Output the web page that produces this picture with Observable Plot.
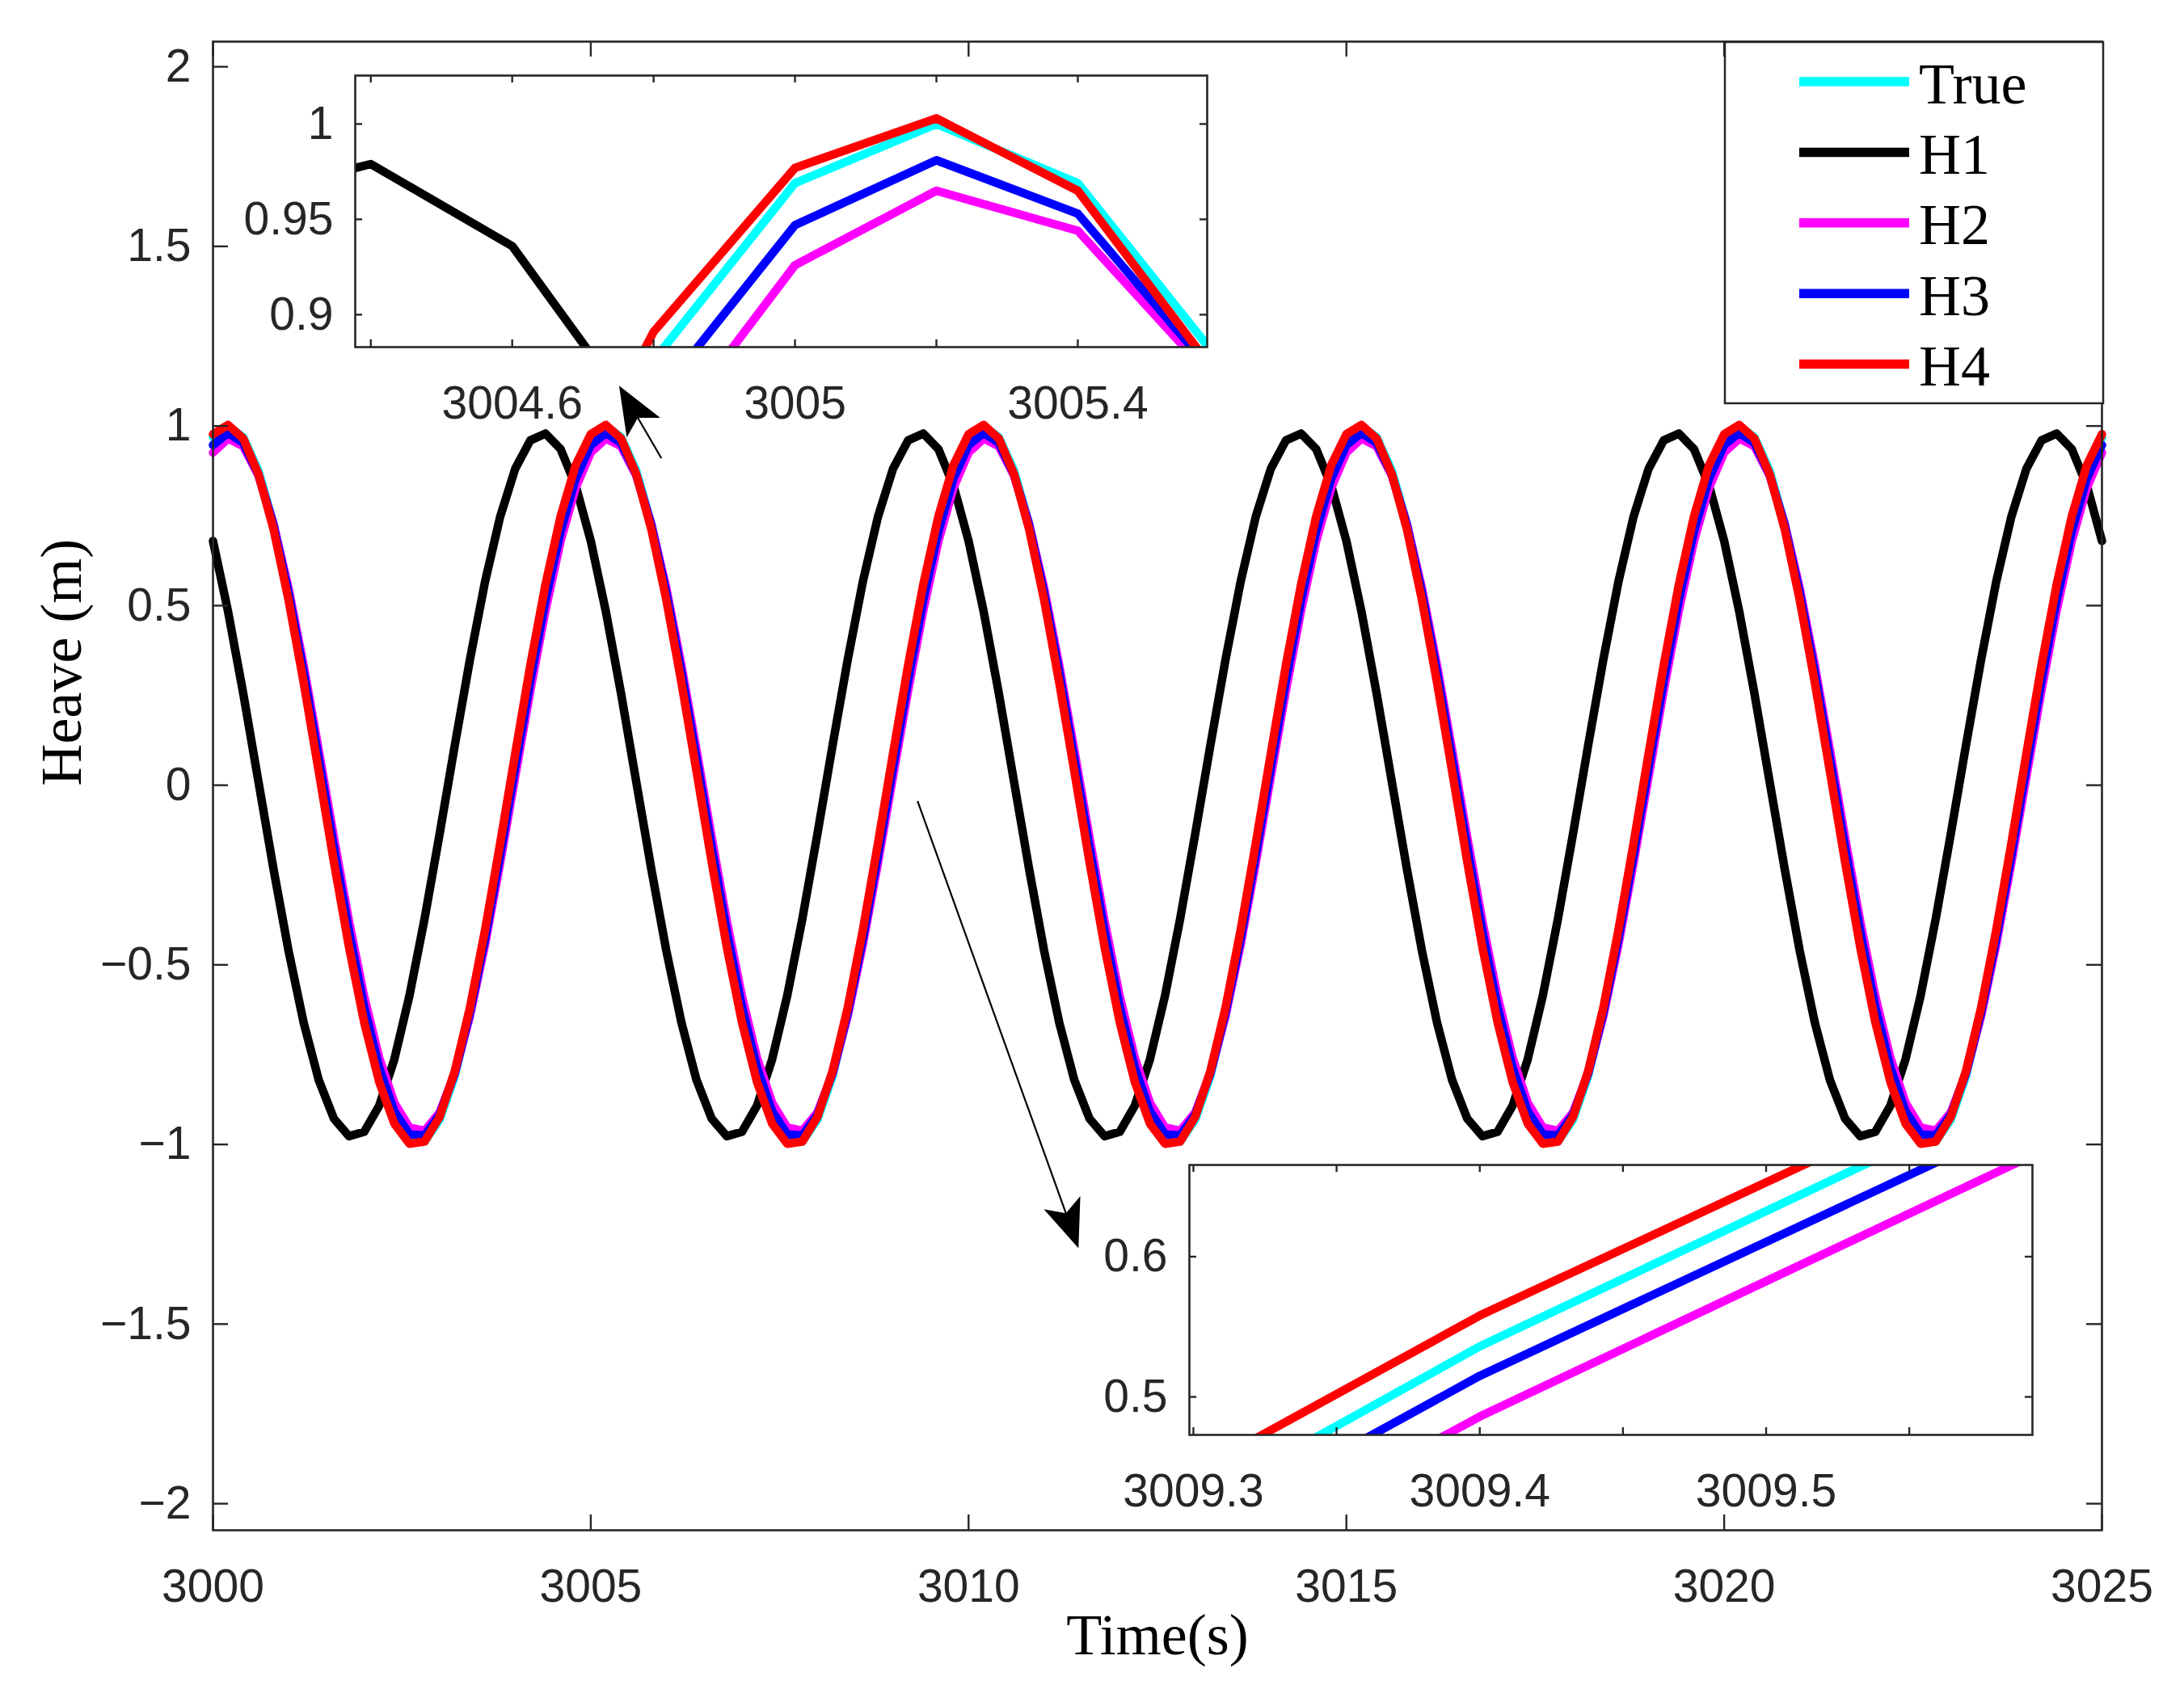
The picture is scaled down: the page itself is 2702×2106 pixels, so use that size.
<!DOCTYPE html>
<html><head><meta charset="utf-8">
<script src="https://cdn.jsdelivr.net/npm/d3@7"></script>
<script src="https://cdn.jsdelivr.net/npm/@observablehq/plot@0.6"></script>
<style>
html,body{margin:0;padding:0;background:#fff;}
#wrap{position:relative;width:2702px;height:2106px;background:#fff;overflow:hidden;}
#wrap > svg{position:absolute;}
</style></head><body><div id="wrap"></div>
<script>
// ---------------- data (sampled every 0.2 s) ----------------
const time = [
3000,3000.2,3000.4,3000.6,3000.8,3001,3001.2,3001.4,3001.6,3001.8,3002,3002.2,3002.4,3002.6,3002.8,3003,3003.2,3003.4,3003.6,3003.8,3004,3004.2,3004.4,3004.6,3004.8,
3005,3005.2,3005.4,3005.6,3005.8,3006,3006.2,3006.4,3006.6,3006.8,3007,3007.2,3007.4,3007.6,3007.8,3008,3008.2,3008.4,3008.6,3008.8,3009,3009.2,3009.4,3009.6,3009.8,
3010,3010.2,3010.4,3010.6,3010.8,3011,3011.2,3011.4,3011.6,3011.8,3012,3012.2,3012.4,3012.6,3012.8,3013,3013.2,3013.4,3013.6,3013.8,3014,3014.2,3014.4,3014.6,3014.8,
3015,3015.2,3015.4,3015.6,3015.8,3016,3016.2,3016.4,3016.6,3016.8,3017,3017.2,3017.4,3017.6,3017.8,3018,3018.2,3018.4,3018.6,3018.8,3019,3019.2,3019.4,3019.6,3019.8,
3020,3020.2,3020.4,3020.6,3020.8,3021,3021.2,3021.4,3021.6,3021.8,3022,3022.2,3022.4,3022.6,3022.8,3023,3023.2,3023.4,3023.6,3023.8,3024,3024.2,3024.4,3024.6,3024.8,
3025];

const heaveTrue = [
0.969,1.000,0.969,0.876,0.729,0.536,0.309,0.063,-0.187,-0.426,-0.637,-0.809,-0.930,-0.992,-0.992,-0.930,-0.809,-0.637,-0.426,-0.187,0.063,0.309,0.536,0.729,0.876,
0.969,1.000,0.969,0.876,0.729,0.536,0.309,0.063,-0.187,-0.426,-0.637,-0.809,-0.930,-0.992,-0.992,-0.930,-0.809,-0.637,-0.426,-0.187,0.063,0.309,0.536,0.729,0.876,
0.969,1.000,0.969,0.876,0.729,0.536,0.309,0.063,-0.187,-0.426,-0.637,-0.809,-0.930,-0.992,-0.992,-0.930,-0.809,-0.637,-0.426,-0.187,0.063,0.309,0.536,0.729,0.876,
0.969,1.000,0.969,0.876,0.729,0.536,0.309,0.063,-0.187,-0.426,-0.637,-0.809,-0.930,-0.992,-0.992,-0.930,-0.809,-0.637,-0.426,-0.187,0.063,0.309,0.536,0.729,0.876,
0.969,1.000,0.969,0.876,0.729,0.536,0.309,0.063,-0.187,-0.426,-0.637,-0.809,-0.930,-0.992,-0.992,-0.930,-0.809,-0.637,-0.426,-0.187,0.063,0.309,0.536,0.729,0.876,
0.969];

const heaveH1 = [
0.680,0.483,0.256,0.012,-0.232,-0.461,-0.661,-0.821,-0.928,-0.977,-0.965,-0.892,-0.763,-0.586,-0.372,-0.135,0.111,0.349,0.566,0.747,0.881,0.960,0.979,0.936,0.834,
0.680,0.483,0.256,0.012,-0.232,-0.461,-0.661,-0.821,-0.928,-0.977,-0.965,-0.892,-0.763,-0.586,-0.372,-0.135,0.111,0.349,0.566,0.747,0.881,0.960,0.979,0.936,0.834,
0.680,0.483,0.256,0.012,-0.232,-0.461,-0.661,-0.821,-0.928,-0.977,-0.965,-0.892,-0.763,-0.586,-0.372,-0.135,0.111,0.349,0.566,0.747,0.881,0.960,0.979,0.936,0.834,
0.680,0.483,0.256,0.012,-0.232,-0.461,-0.661,-0.821,-0.928,-0.977,-0.965,-0.892,-0.763,-0.586,-0.372,-0.135,0.111,0.349,0.566,0.747,0.881,0.960,0.979,0.936,0.834,
0.680,0.483,0.256,0.012,-0.232,-0.461,-0.661,-0.821,-0.928,-0.977,-0.965,-0.892,-0.763,-0.586,-0.372,-0.135,0.111,0.349,0.566,0.747,0.881,0.960,0.979,0.936,0.834,
0.680];

const heaveH2 = [
0.926,0.965,0.944,0.863,0.729,0.548,0.333,0.097,-0.145,-0.378,-0.587,-0.759,-0.884,-0.953,-0.962,-0.911,-0.802,-0.643,-0.444,-0.217,0.024,0.264,0.486,0.679,0.828,
0.926,0.965,0.944,0.863,0.729,0.548,0.333,0.097,-0.145,-0.378,-0.587,-0.759,-0.884,-0.953,-0.962,-0.911,-0.802,-0.643,-0.444,-0.217,0.024,0.264,0.486,0.679,0.828,
0.926,0.965,0.944,0.863,0.729,0.548,0.333,0.097,-0.145,-0.378,-0.587,-0.759,-0.884,-0.953,-0.962,-0.911,-0.802,-0.643,-0.444,-0.217,0.024,0.264,0.486,0.679,0.828,
0.926,0.965,0.944,0.863,0.729,0.548,0.333,0.097,-0.145,-0.378,-0.587,-0.759,-0.884,-0.953,-0.962,-0.911,-0.802,-0.643,-0.444,-0.217,0.024,0.264,0.486,0.679,0.828,
0.926,0.965,0.944,0.863,0.729,0.548,0.333,0.097,-0.145,-0.378,-0.587,-0.759,-0.884,-0.953,-0.962,-0.911,-0.802,-0.643,-0.444,-0.217,0.024,0.264,0.486,0.679,0.828,
0.926];

const heaveH3 = [
0.947,0.981,0.953,0.866,0.724,0.536,0.315,0.074,-0.172,-0.406,-0.616,-0.786,-0.908,-0.972,-0.975,-0.917,-0.801,-0.634,-0.429,-0.196,0.049,0.291,0.515,0.706,0.854,
0.947,0.981,0.953,0.866,0.724,0.536,0.315,0.074,-0.172,-0.406,-0.616,-0.786,-0.908,-0.972,-0.975,-0.917,-0.801,-0.634,-0.429,-0.196,0.049,0.291,0.515,0.706,0.854,
0.947,0.981,0.953,0.866,0.724,0.536,0.315,0.074,-0.172,-0.406,-0.616,-0.786,-0.908,-0.972,-0.975,-0.917,-0.801,-0.634,-0.429,-0.196,0.049,0.291,0.515,0.706,0.854,
0.947,0.981,0.953,0.866,0.724,0.536,0.315,0.074,-0.172,-0.406,-0.616,-0.786,-0.908,-0.972,-0.975,-0.917,-0.801,-0.634,-0.429,-0.196,0.049,0.291,0.515,0.706,0.854,
0.947,0.981,0.953,0.866,0.724,0.536,0.315,0.074,-0.172,-0.406,-0.616,-0.786,-0.908,-0.972,-0.975,-0.917,-0.801,-0.634,-0.429,-0.196,0.049,0.291,0.515,0.706,0.854,
0.947];

const heaveH4 = [
0.977,1.003,0.965,0.867,0.714,0.516,0.286,0.038,-0.213,-0.450,-0.659,-0.826,-0.942,-0.998,-0.992,-0.923,-0.796,-0.620,-0.404,-0.163,0.088,0.334,0.558,0.748,0.891,
0.977,1.003,0.965,0.867,0.714,0.516,0.286,0.038,-0.213,-0.450,-0.659,-0.826,-0.942,-0.998,-0.992,-0.923,-0.796,-0.620,-0.404,-0.163,0.088,0.334,0.558,0.748,0.891,
0.977,1.003,0.965,0.867,0.714,0.516,0.286,0.038,-0.213,-0.450,-0.659,-0.826,-0.942,-0.998,-0.992,-0.923,-0.796,-0.620,-0.404,-0.163,0.088,0.334,0.558,0.748,0.891,
0.977,1.003,0.965,0.867,0.714,0.516,0.286,0.038,-0.213,-0.450,-0.659,-0.826,-0.942,-0.998,-0.992,-0.923,-0.796,-0.620,-0.404,-0.163,0.088,0.334,0.558,0.748,0.891,
0.977,1.003,0.965,0.867,0.714,0.516,0.286,0.038,-0.213,-0.450,-0.659,-0.826,-0.942,-0.998,-0.992,-0.923,-0.796,-0.620,-0.404,-0.163,0.088,0.334,0.558,0.748,0.891,
0.977];

const seriesNames  = ["True", "H1", "H2", "H3", "H4"];
const seriesColors = ["#00ffff", "#000000", "#ff00ff", "#0000ff", "#ff0000"];
const seriesValues = [heaveTrue, heaveH1, heaveH2, heaveH3, heaveH4];

// ticks / labels
const mainXTicks = [3000, 3005, 3010, 3015, 3020, 3025];
const mainYTicks = [-2, -1.5, -1, -0.5, 0, 0.5, 1, 1.5, 2];
const topXTicks  = [3004.4, 3004.6, 3004.8, 3005, 3005.2, 3005.4];
const topXLabels = [3004.6, 3005, 3005.4];
const topYTicks  = [0.9, 0.95, 1];
const botXTicks  = [3009.3, 3009.35, 3009.4, 3009.45, 3009.5, 3009.55];
const botXLabels = [3009.3, 3009.4, 3009.5];
const botYTicks  = [0.5, 0.6];

const xLabel = "Time(s)";
const yLabel = "Heave (m)";

// annotation arrows (main-axes data coordinates: tail -> tip)
const arrows = [
  {x1: 3005.94, y1: 0.909, x2: 3005.38, y2: 1.111},
  {x1: 3009.33, y1: -0.045, x2: 3011.46, y2: -1.29}
];

// ---------------- rendering ----------------
const SANS  = "'Liberation Sans', Arial, Helvetica, sans-serif";
const SERIF = "'Liberation Serif', 'Times New Roman', Times, serif";
const AXIS  = "#262626";
const FONT  = 57;
const LW    = 10.5;

const allRows = [];
seriesNames.forEach((s, i) => time.forEach((t, j) => allRows.push({s, t, v: seriesValues[i][j]})));

function fmt(d) { return d < 0 ? "\u2212" + String(Math.abs(d)) : String(d); }

function arrowMark(xDom, yDom, box) {
  return function(index, scales) {
    const sx = (scales && typeof scales.x === "function") ? scales.x : d3.scaleLinear(xDom, [box.left, box.right]);
    const sy = (scales && typeof scales.y === "function") ? scales.y : d3.scaleLinear(yDom, [box.bottom, box.top]);
    const ns = "http://www.w3.org/2000/svg";
    const g = document.createElementNS(ns, "g");
    g.setAttribute("aria-label", "arrows");
    for (const a of arrows) {
      const X1 = sx(a.x1), Y1 = sy(a.y1), X2 = sx(a.x2), Y2 = sy(a.y2);
      const dx = X2 - X1, dy = Y2 - Y1, L = Math.hypot(dx, dy);
      const ux = dx / L, uy = dy / L, nx = -uy, ny = ux;
      const HL = 60, HW = 24, notch = 14;
      const bx = X2 - HL * ux, by = Y2 - HL * uy;
      const mx = X2 - (HL - notch) * ux, my = Y2 - (HL - notch) * uy;
      const line = document.createElementNS(ns, "line");
      line.setAttribute("x1", X1); line.setAttribute("y1", Y1);
      line.setAttribute("x2", mx); line.setAttribute("y2", my);
      line.setAttribute("stroke", "#000"); line.setAttribute("stroke-width", 2.2);
      g.appendChild(line);
      const p = document.createElementNS(ns, "polygon");
      p.setAttribute("points", [[X2, Y2], [bx + HW * nx, by + HW * ny], [mx, my], [bx - HW * nx, by - HW * ny]].map(q => q.join(",")).join(" "));
      p.setAttribute("fill", "#000");
      g.appendChild(p);
    }
    return g;
  };
}

function panel(name, o) {
  const fw = o.right - o.left, fh = o.bottom - o.top;
  const m = o.margin;
  const marks = [];
  if (o.fillFrame) marks.push(Plot.frame({fill: "#fff", stroke: null}));
  marks.push(Plot.line(allRows, {x: d => d.t, y: d => d.v, z: d => d.s, stroke: d => d.s, strokeWidth: LW, strokeLinejoin: "round"}));
  const tl = o.tickLen;
  const ts = {stroke: AXIS, strokeWidth: 2.4};
  marks.push(Plot.tickX(o.xTicks, {x: d => d, insetTop: fh - tl, ...ts}));
  marks.push(Plot.tickX(o.xTicks, {x: d => d, insetBottom: fh - tl, ...ts}));
  marks.push(Plot.tickY(o.yTicks, {y: d => d, insetRight: fw - tl, ...ts}));
  marks.push(Plot.tickY(o.yTicks, {y: d => d, insetLeft: fw - tl, ...ts}));
  marks.push(Plot.axisX(o.xLabels, {anchor: "bottom", tickSize: 0, tickPadding: 48, tickFormat: fmt, label: null, color: AXIS, fontSize: FONT}));
  marks.push(Plot.axisY(o.yLabels, {anchor: "left", tickSize: 0, tickPadding: 27, tickFormat: fmt, label: null, color: AXIS, fontSize: FONT}));
  marks.push(Plot.frame({stroke: AXIS, strokeWidth: 2.6}));
  if (o.extra) marks.push(...o.extra);
  const svg = Plot.plot({
    width: fw + m.l + m.r, height: fh + m.t + m.b,
    marginLeft: m.l, marginRight: m.r, marginTop: m.t, marginBottom: m.b,
    x: {type: "linear", domain: o.xDomain},
    y: {type: "linear", domain: o.yDomain},
    color: {type: "ordinal", domain: seriesNames, range: seriesColors},
    style: {fontFamily: SANS, fontSize: FONT + "px", background: "transparent", overflow: "visible", color: AXIS},
    marks
  });
  svg.style.left = (o.left - m.l) + "px";
  svg.style.top = (o.top - m.t) + "px";
  svg.style.position = "absolute";
  if (o.clip) {
    const ns = "http://www.w3.org/2000/svg";
    const id = "clip-" + name;
    const defs = document.createElementNS(ns, "defs");
    const cp = document.createElementNS(ns, "clipPath"); cp.setAttribute("id", id);
    const r = document.createElementNS(ns, "rect");
    r.setAttribute("x", m.l); r.setAttribute("y", m.t); r.setAttribute("width", fw); r.setAttribute("height", fh);
    cp.appendChild(r); defs.appendChild(cp); svg.insertBefore(defs, svg.firstChild);
    svg.querySelectorAll('g[aria-label="line"]').forEach(g => g.setAttribute("clip-path", `url(#${id})`));
  }
  return svg;
}

const wrap = document.getElementById("wrap");
const mainBox = {left: 263, right: 2600, top: 51, bottom: 1893};
const mainXDom = [3000, 3025], mainYDom = [-2.074, 2.07];
wrap.appendChild(panel("main", {
  ...mainBox, margin: {l: 263, r: 102, t: 51, b: 213},
  xDomain: mainXDom, yDomain: mainYDom,
  xTicks: mainXTicks, xLabels: mainXTicks, yTicks: mainYTicks, yLabels: mainYTicks,
  tickLen: 19, clip: false, fillFrame: false,
  extra: [
    Plot.text([xLabel], {text: d => d, frameAnchor: "bottom", dy: 153, fontFamily: SERIF, fontSize: 72, fill: "#000"}),
    Plot.text([yLabel], {text: d => d, frameAnchor: "left", rotate: -90, dx: -187, fontFamily: SERIF, fontSize: 72, fill: "#000"}),
    arrowMark(mainXDom, mainYDom, mainBox)
  ]
}));

// top inset
wrap.appendChild(panel("top", {
  left: 439, right: 1493, top: 93, bottom: 429, margin: {l: 200, r: 12, t: 12, b: 110},
  xDomain: [3004.378, 3005.583], yDomain: [0.883, 1.0254],
  xTicks: topXTicks, xLabels: topXLabels, yTicks: topYTicks, yLabels: topYTicks,
  tickLen: 9, clip: true, fillFrame: true
}));

// bottom inset
wrap.appendChild(panel("bot", {
  left: 1471, right: 2514, top: 1441, bottom: 1775, margin: {l: 200, r: 12, t: 12, b: 110},
  xDomain: [3009.2986, 3009.593], yDomain: [0.4729, 0.6654],
  xTicks: botXTicks, xLabels: botXLabels, yTicks: botYTicks, yLabels: botYTicks,
  tickLen: 9, clip: true, fillFrame: true
}));

// legend
const leg = d3.create("svg").attr("width", 480).attr("height", 460)
  .style("position", "absolute").style("left", "2130px").style("top", "48px");
leg.append("rect").attr("x", 4).attr("y", 4).attr("width", 468).attr("height", 447)
  .attr("fill", "#fff").attr("stroke", AXIS).attr("stroke-width", 2.5);
seriesNames.forEach((s, i) => {
  const cy = 53 + i * 87.4;
  leg.append("line").attr("x1", 96).attr("x2", 232).attr("y1", cy).attr("y2", cy)
    .attr("stroke", seriesColors[i]).attr("stroke-width", 11.5);
  leg.append("text").attr("x", 244).attr("y", cy + 26.5).text(s)
    .attr("font-family", SERIF).attr("font-size", 72).attr("fill", "#000");
});
wrap.appendChild(leg.node());
</script></body></html>
